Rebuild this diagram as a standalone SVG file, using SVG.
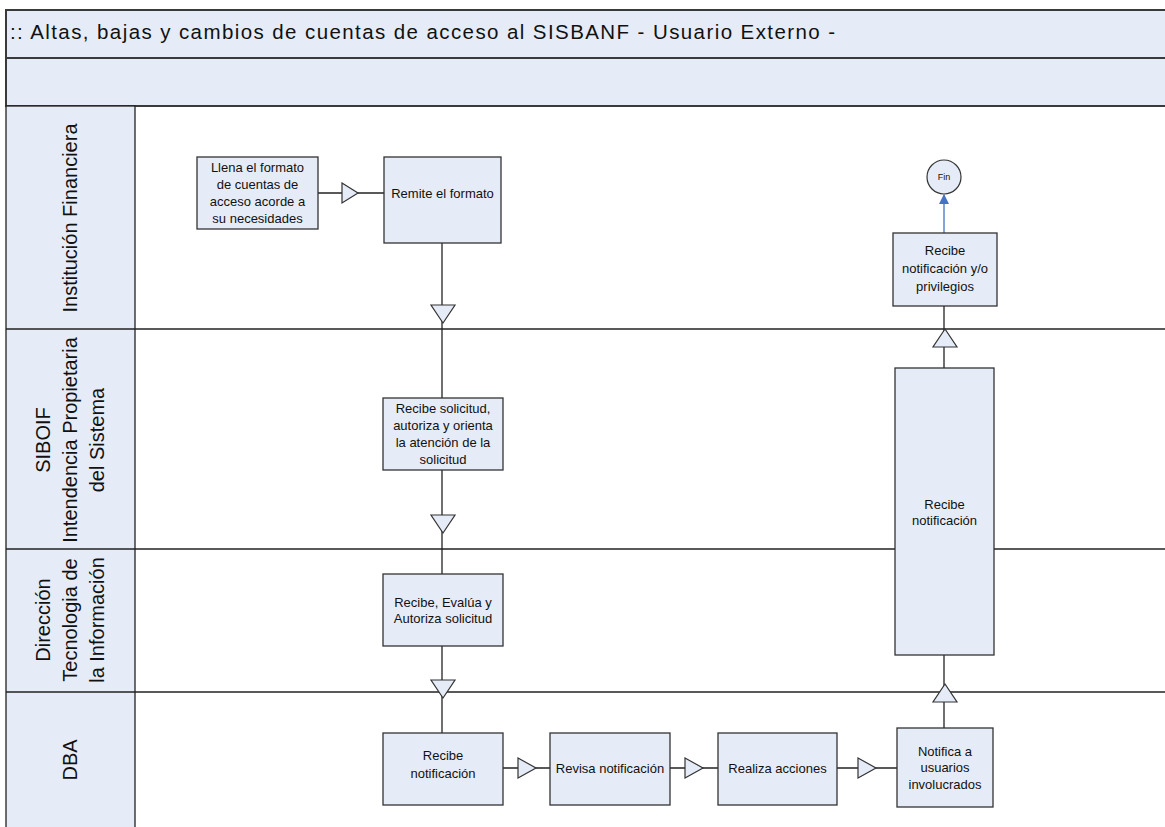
<svg xmlns="http://www.w3.org/2000/svg" width="1165" height="827" viewBox="0 0 1165 827">
<defs>
<style>
.band{fill:#E6ECF7;stroke:#3a3a3a;stroke-width:2}
.lanelbl{fill:#E6ECF7;stroke:#222;stroke-width:1.3}
.sep{stroke:#222;stroke-width:1.3;fill:none}
.box{fill:#E6ECF7;stroke:#333;stroke-width:1.3}
.t{font-family:"Liberation Sans",Arial,sans-serif;font-size:13px;fill:#111;text-anchor:middle}
.lt{font-family:"Liberation Sans",Arial,sans-serif;font-size:20px;fill:#111;text-anchor:middle}
.ln{stroke:#222;stroke-width:1.3;fill:none}
.tri{fill:#E6ECF7;stroke:#333;stroke-width:1.2}
</style>
<marker id="blue" viewBox="0 0 10 10" refX="9" refY="5" markerWidth="8" markerHeight="8" orient="auto"><path d="M0,0 L10,5 L0,10 z" fill="#4472C4"/></marker>
</defs>
<rect width="1165" height="827" fill="#fff"/>
<g id="header">
<rect class="band" x="6" y="10" width="1170" height="48"/>
<rect class="band" x="6" y="58" width="1170" height="48"/>
<text x="10" y="39" font-family="Liberation Sans,Arial,sans-serif" font-size="20.5" fill="#111" textLength="825" lengthAdjust="spacing">:: Altas, bajas y cambios de cuentas de acceso al SISBANF - Usuario Externo -</text>
</g>
<g id="lanes">
<rect class="lanelbl" x="6" y="106" width="129" height="730"/>
<line class="sep" x1="6" y1="329" x2="1165" y2="329"/>
<line class="sep" x1="6" y1="549" x2="1165" y2="549"/>
<line class="sep" x1="6" y1="692" x2="1165" y2="692"/>
<text class="lt" transform="translate(77,218) rotate(-90)">Institución Financiera</text>
<text class="lt" transform="translate(50,440) rotate(-90)">SIBOIF</text>
<text class="lt" transform="translate(77,440) rotate(-90)">Intendencia Propietaria</text>
<text class="lt" transform="translate(104,440) rotate(-90)">del Sistema</text>
<text class="lt" transform="translate(50,620) rotate(-90)">Dirección</text>
<text class="lt" transform="translate(77,620) rotate(-90)">Tecnologia de</text>
<text class="lt" transform="translate(104,620) rotate(-90)">la Información</text>
<text class="lt" transform="translate(77,760) rotate(-90)">DBA</text>
</g>
<g id="connectors">
<line class="ln" x1="318" y1="193" x2="384" y2="193"/>
<polygon class="tri" points="342,183 358,193 342,203"/>
<line class="ln" x1="442" y1="243" x2="442" y2="398"/>
<polygon class="tri" points="431,305 455,305 443,323"/>
<line class="ln" x1="442" y1="470" x2="442" y2="574"/>
<polygon class="tri" points="431,515 455,515 443,533"/>
<line class="ln" x1="442" y1="646" x2="442" y2="733"/>
<polygon class="tri" points="431,680 455,680 443,698"/>
<line class="ln" x1="503" y1="768" x2="550" y2="768"/>
<polygon class="tri" points="518,758 536,768 518,778"/>
<line class="ln" x1="670" y1="768" x2="718" y2="768"/>
<polygon class="tri" points="685,758 703,768 685,778"/>
<line class="ln" x1="837" y1="768" x2="897" y2="768"/>
<polygon class="tri" points="858,758 876,768 858,778"/>
<line class="ln" x1="944" y1="728" x2="944" y2="655"/>
<polygon class="tri" points="933,702 957,702 945,684"/>
<line class="ln" x1="944" y1="368" x2="944" y2="306"/>
<polygon class="tri" points="933,347 957,347 945,329"/>
<line x1="944" y1="233" x2="944" y2="195" stroke="#4472C4" stroke-width="1.3" marker-end="url(#blue)"/>
</g>
<g id="n1">
<rect class="box" x="197" y="157" width="121" height="72"/>
<text class="t" x="257.5" y="172">Llena el formato</text>
<text class="t" x="257.5" y="189">de cuentas de</text>
<text class="t" x="257.5" y="206">acceso acorde a</text>
<text class="t" x="257.5" y="223">su necesidades</text>
</g>
<g id="n2">
<rect class="box" x="384" y="157" width="117" height="86"/>
<text class="t" x="442.5" y="198">Remite el formato</text>
</g>
<g id="n3">
<rect class="box" x="383" y="398" width="120" height="72"/>
<text class="t" x="443" y="413">Recibe solicitud,</text>
<text class="t" x="443" y="430">autoriza y orienta</text>
<text class="t" x="443" y="447">la atención de la</text>
<text class="t" x="443" y="464">solicitud</text>
</g>
<g id="n4">
<rect class="box" x="383" y="574" width="120" height="72"/>
<text class="t" x="443" y="607">Recibe, Evalúa y</text>
<text class="t" x="443" y="623">Autoriza solicitud</text>
</g>
<g id="n5">
<rect class="box" x="383" y="733" width="120" height="72"/>
<text class="t" x="443" y="760">Recibe</text>
<text class="t" x="443" y="778">notificación</text>
</g>
<g id="n6">
<rect class="box" x="550" y="733" width="120" height="72"/>
<text class="t" x="610" y="773">Revisa notificación</text>
</g>
<g id="n7">
<rect class="box" x="718" y="733" width="119" height="72"/>
<text class="t" x="777.5" y="773">Realiza acciones</text>
</g>
<g id="n8">
<rect class="box" x="897" y="728" width="96" height="79"/>
<text class="t" x="945" y="756">Notifica a</text>
<text class="t" x="945" y="772">usuarios</text>
<text class="t" x="945" y="789">involucrados</text>
</g>
<g id="n9">
<rect class="box" x="895" y="368" width="99" height="287"/>
<text class="t" x="944.5" y="509">Recibe</text>
<text class="t" x="944.5" y="525">notificación</text>
</g>
<g id="n10">
<rect class="box" x="893" y="233" width="104" height="73"/>
<text class="t" x="945" y="255">Recibe</text>
<text class="t" x="945" y="273">notificación y/o</text>
<text class="t" x="945" y="291">privilegios</text>
</g>
<g id="fin">
<circle cx="944" cy="177" r="17" fill="#E6ECF7" stroke="#333" stroke-width="1.2"/>
<text x="944" y="180" font-family="Liberation Sans,Arial,sans-serif" font-size="9" fill="#111" text-anchor="middle">Fin</text>
</g>
</svg>
